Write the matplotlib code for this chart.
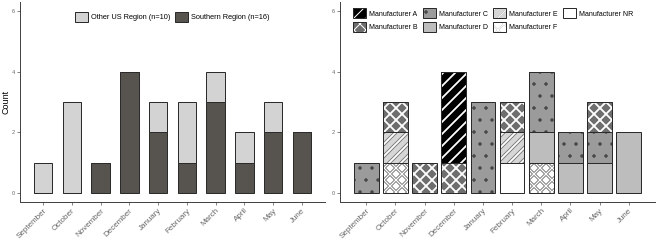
import numpy as np
import matplotlib
matplotlib.use('Agg')
import matplotlib.pyplot as plt
from matplotlib.patches import Patch
from matplotlib.legend_handler import HandlerTuple

plt.rcParams['font.family'] = ['Liberation Sans', 'DejaVu Sans']

months = ['September', 'October', 'November', 'December', 'January',
          'February', 'March', 'April', 'May', 'June']

# left panel: counts by region
southern = [0, 0, 1, 4, 2, 1, 3, 1, 2, 2]
other_us = [1, 3, 0, 0, 1, 2, 1, 1, 1, 0]

# right panel: counts by manufacturer
mfr_a = [0, 0, 0, 3, 0, 0, 0, 0, 0, 0]
mfr_b = [0, 1, 1, 1, 0, 1, 0, 0, 1, 0]
mfr_c = [1, 0, 0, 0, 3, 0, 2, 1, 1, 0]
mfr_d = [0, 0, 0, 0, 0, 0, 1, 1, 1, 2]
mfr_e = [0, 1, 0, 0, 0, 1, 0, 0, 0, 0]
mfr_f = [0, 1, 0, 0, 0, 0, 1, 0, 0, 0]
mfr_nr = [0, 0, 0, 0, 0, 1, 0, 0, 0, 0]

EDGE = '#2b2b2b'
AXC = '#444444'

# face colour + hatch layers (pattern, colour, linewidth)
styles = {
    'Manufacturer A': ('#000000', [('//', 'white', 1.8)]),
    'Manufacturer B': ('#6e6e6e', [('xx', 'white', 1.8)]),
    'Manufacturer C': ('#9b9b9b', [('.', '#444444', 1.0)]),
    'Manufacturer D': ('#bdbdbd', []),
    'Manufacturer E': ('#d6d6d6', [('//', '#7a7a7a', 3.6), ('//', 'white', 1.8)]),
    'Manufacturer F': ('#ffffff', [('xx', '#6a6a6a', 3.0), ('xx', 'white', 1.3)]),
    'Manufacturer NR': ('#ffffff', []),
}
mfr_data = {
    'Manufacturer A': mfr_a, 'Manufacturer B': mfr_b, 'Manufacturer C': mfr_c,
    'Manufacturer D': mfr_d, 'Manufacturer E': mfr_e, 'Manufacturer F': mfr_f,
    'Manufacturer NR': mfr_nr,
}
# ggplot stacks the first level on top
stack_order = ['Manufacturer NR', 'Manufacturer F', 'Manufacturer E',
               'Manufacturer D', 'Manufacturer C', 'Manufacturer B',
               'Manufacturer A']


def set_hlw(patches, lw):
    for p in patches:
        if hasattr(p, 'set_hatch_linewidth'):
            p.set_hatch_linewidth(lw)


def hatched_bar(ax, x, h, bottom, face, layers, width):
    x = np.asarray(x); h = np.asarray(h); bottom = np.asarray(bottom)
    m = h > 0
    if not m.any():
        return
    ax.bar(x[m], h[m], width, bottom=bottom[m], color=face, linewidth=0)
    for hatch, hc, hlw in layers:
        with plt.rc_context({'hatch.linewidth': hlw}):
            bars = ax.bar(x[m], h[m], width, bottom=bottom[m], fill=False,
                          hatch=hatch, edgecolor=hc, linewidth=0)
        set_hlw(bars, hlw)
    ax.bar(x[m], h[m], width, bottom=bottom[m], fill=False,
           edgecolor=EDGE, linewidth=1.0)


def legend_handle(face, layers):
    parts = [Patch(facecolor=face, edgecolor='none', linewidth=0)]
    for hatch, hc, hlw in layers:
        with plt.rc_context({'hatch.linewidth': hlw}):
            p = Patch(fill=False, hatch=hatch, edgecolor=hc, linewidth=0)
        set_hlw([p], hlw)
        parts.append(p)
    parts.append(Patch(fill=False, edgecolor=EDGE, linewidth=1.0))
    return tuple(parts)


def style_axes(ax, xlim):
    for s in ['top', 'right']:
        ax.spines[s].set_visible(False)
    for s in ['left', 'bottom']:
        ax.spines[s].set_color(AXC)
        ax.spines[s].set_linewidth(1.0)
    ax.set_xlim(*xlim)
    ax.set_ylim(-0.3, 6.3)
    ax.set_yticks([0, 2, 4, 6])
    ax.set_xticks(range(len(months)))
    ax.set_xticklabels(months, rotation=45, ha='right', rotation_mode='anchor')
    ax.tick_params(axis='x', labelsize=8, labelcolor='#666666', length=3,
                   color='#666666', pad=2)
    ax.tick_params(axis='y', labelsize=5.5, labelcolor='#666666', length=3,
                   color='#666666', pad=2)


fig = plt.figure(figsize=(657 / 72, 241 / 72), dpi=72)
ax1 = fig.add_axes([20 / 657, 39 / 241, 305 / 657, 200 / 241])
ax2 = fig.add_axes([340 / 657, 39 / 241, 315 / 657, 200 / 241])

x = np.arange(len(months))

# left: region
ax1.bar(x, southern, 0.64, color='#57544f', edgecolor=EDGE, linewidth=1.0,
        label='Southern Region (n=16)')
ax1.bar(x, other_us, 0.64, bottom=southern, color='#d3d3d3', edgecolor=EDGE,
        linewidth=1.0, label='Other US Region (n=10)')
style_axes(ax1, (-0.8, 9.8))
ax1.set_ylabel('Count', fontsize=9, labelpad=1)
h, l = ax1.get_legend_handles_labels()
ax1.legend(h[::-1], l[::-1], loc='upper center', bbox_to_anchor=(0.5, 0.985),
           ncol=2, frameon=False, fontsize=7.4, handlelength=1.75,
           handleheight=1.75, handletextpad=0.4, columnspacing=0.6)

# right: manufacturer
bottom = np.zeros(len(months))
for name in stack_order:
    face, layers = styles[name]
    vals = np.array(mfr_data[name])
    hatched_bar(ax2, x, vals, bottom, face, layers, 0.85)
    bottom = bottom + vals
style_axes(ax2, (-0.9, 9.9))

names = list(styles.keys())
handles = [legend_handle(*styles[n]) for n in names]
ax2.legend(handles, names, handler_map={tuple: HandlerTuple(ndivide=1)},
           loc='upper left', bbox_to_anchor=(0.02, 1.0), ncol=4,
           frameon=False, fontsize=7, handlelength=1.85, handleheight=1.85,
           handletextpad=0.5, columnspacing=0.7, labelspacing=0.45)

fig.savefig('out.png', dpi=72)
